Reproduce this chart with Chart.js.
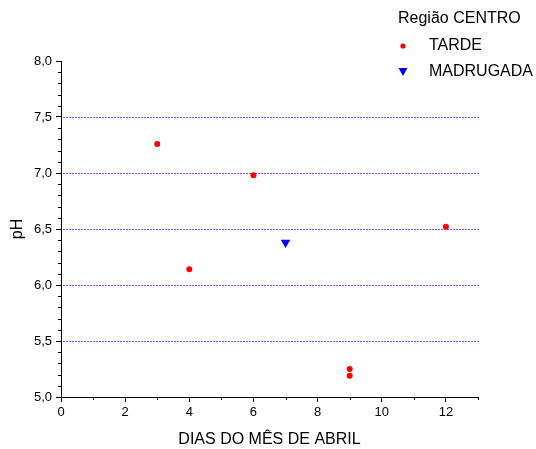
<!DOCTYPE html>
<html><head><meta charset="utf-8">
<script src="https://cdn.jsdelivr.net/npm/chart.js@4"></script>
<style>html,body{margin:0;padding:0;background:#fff}#wrap{width:536px;height:449px}</style>
</head><body><div id="wrap"><canvas id="c" width="536" height="449"></canvas></div>
<script>
const legendTitle = "Região CENTRO";
const xTitle = "DIAS DO MÊS DE ABRIL";
const yTitle = "pH";
const tardeX = [3, 4, 6, 9, 9, 12];
const tardeY = [7.26, 6.14, 6.98, 5.25, 5.19, 6.52];
const madrugadaX = [7];
const madrugadaY = [6.38];
const xTicks = [0, 2, 4, 6, 8, 10, 12];
const xMinor = [1, 3, 5, 7, 9, 11, 13];
const yTicks = [5.0, 5.5, 6.0, 6.5, 7.0, 7.5, 8.0];
const yGrid = [5.5, 6.0, 6.5, 7.0, 7.5];
const yMinor = [5.1,5.2,5.3,5.4,5.6,5.7,5.8,5.9,6.1,6.2,6.3,6.4,6.6,6.7,6.8,6.9,7.1,7.2,7.3,7.4,7.6,7.7,7.8,7.9];

const FONT = "'Liberation Sans', Arial, sans-serif";

const decor = {
  id: 'decor',
  beforeDatasetsDraw(chart) {
    const {ctx, chartArea, scales} = chart;
    const x = scales.x, y = scales.y;
    ctx.save();
    ctx.fillStyle = 'rgb(150,70,255)';
    yGrid.forEach(v => {
      const py = Math.round(y.getPixelForValue(v));
      for (let px = Math.round(chartArea.left) + 2; px < chartArea.right; px += 3) {
        ctx.fillRect(px, py, 2, 1);
      }
    });
    ctx.strokeStyle = '#000';
    ctx.lineWidth = 1;
    xMinor.forEach(v => {
      const px = Math.round(x.getPixelForValue(v)) + 0.5;
      ctx.beginPath(); ctx.moveTo(px, chartArea.bottom); ctx.lineTo(px, chartArea.bottom + 3); ctx.stroke();
    });
    yMinor.forEach(v => {
      const py = Math.round(y.getPixelForValue(v)) + 0.5;
      ctx.beginPath(); ctx.moveTo(chartArea.left - 3, py); ctx.lineTo(chartArea.left, py); ctx.stroke();
    });
    ctx.restore();
  },
  afterDraw(chart) {
    const {ctx} = chart;
    ctx.save();
    ctx.fillStyle = '#000';
    ctx.font = '16px ' + FONT;
    ctx.textBaseline = 'middle';
    ctx.textAlign = 'left';
    ctx.fillText(legendTitle, 398, 19);
    const ds = chart.data.datasets;
    const rows = [46, 72];
    ds.forEach((d, i) => {
      ctx.fillStyle = '#000';
      ctx.fillText(d.label, 429, rows[i]);
      ctx.fillStyle = d.backgroundColor;
      ctx.beginPath();
      if (i === 0) {
        ctx.arc(403, rows[i], 2.6, 0, Math.PI * 2);
      } else {
        ctx.moveTo(398.5, rows[i] - 4); ctx.lineTo(407.5, rows[i] - 4); ctx.lineTo(403, rows[i] + 4); ctx.closePath();
      }
      ctx.fill();
    });
    ctx.restore();
  }
};

const toPts = (xs, ys) => xs.map((v, i) => ({x: v, y: ys[i]}));

new Chart(document.getElementById('c'), {
  type: 'scatter',
  data: {
    datasets: [
      {label: 'TARDE', data: toPts(tardeX, tardeY), backgroundColor: '#ff0000', borderColor: '#ff0000',
       pointStyle: 'circle', pointRadius: 3, pointBorderWidth: 0},
      {label: 'MADRUGADA', data: toPts(madrugadaX, madrugadaY), backgroundColor: '#0000ff', borderColor: '#0000ff',
       pointStyle: 'triangle', pointRadius: 5.5, pointRotation: 180, pointBorderWidth: 0}
    ]
  },
  options: {
    responsive: false,
    animation: false,
    layout: {padding: {left: 0, top: 61, right: 58, bottom: 0}},
    plugins: {legend: {display: false}, tooltip: {enabled: false}},
    scales: {
      x: {
        type: 'linear', min: 0, max: 13,
        afterBuildTicks: s => { s.ticks = xTicks.map(v => ({value: v})); },
        afterFit: s => { s.height = 52; },
        grid: {drawOnChartArea: false, drawTicks: true, tickLength: 5, tickColor: '#000'},
        border: {display: true, color: '#000', width: 1},
        ticks: {color: '#000', font: {family: FONT, size: 13}, padding: 3, maxRotation: 0,
                callback: v => String(v)},
        title: {display: true, text: xTitle, color: '#000', font: {family: FONT, size: 16}, padding: {top: 4, bottom: 0}}
      },
      y: {
        type: 'linear', min: 5, max: 8,
        afterBuildTicks: s => { s.ticks = yTicks.map(v => ({value: v})); },
        afterFit: s => { s.width = 61; },
        grid: {drawOnChartArea: false, drawTicks: true, tickLength: 5, tickColor: '#000'},
        border: {display: true, color: '#000', width: 1},
        ticks: {color: '#000', font: {family: FONT, size: 13}, padding: 4,
                callback: v => v.toFixed(1).replace('.', ',')},
        title: {display: true, text: yTitle, color: '#000', font: {family: FONT, size: 16}, padding: {top: 8, bottom: 0}}
      }
    }
  },
  plugins: [decor]
});
</script>
</body></html>
